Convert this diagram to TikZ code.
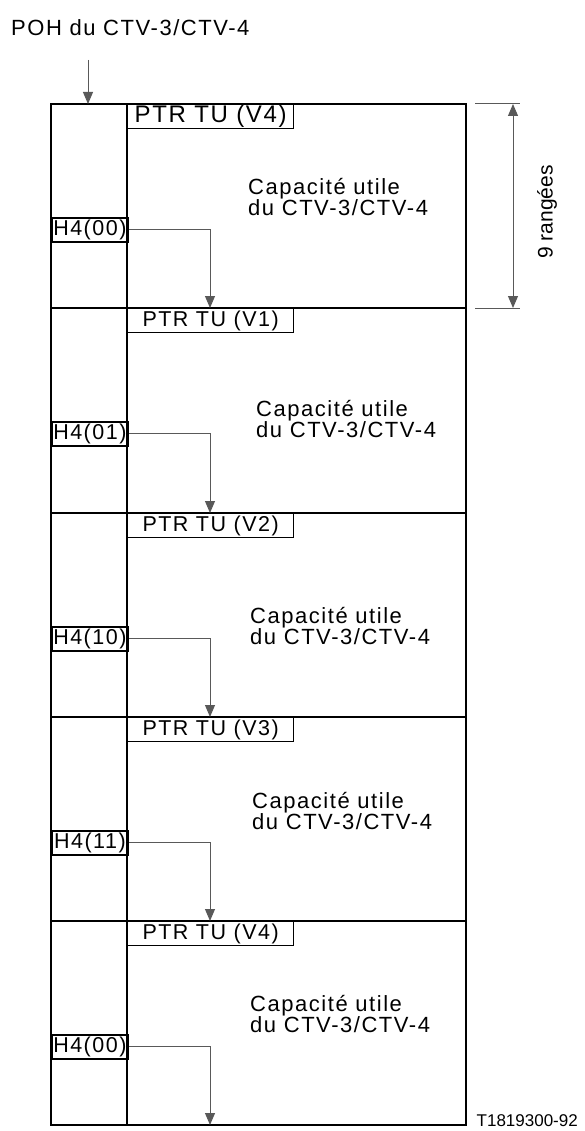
\documentclass[tikz,border=0pt]{standalone}
\usepackage{fontspec}
\setmainfont{Liberation Sans}
\newfontfamily\lsfont[LetterSpace=7]{Liberation Sans}
\usetikzlibrary{arrows.meta}
\begin{document}
\begin{tikzpicture}[x=1pt,y=-1pt,
  frameline/.style={line width=1.8pt},
  ptrbox/.style={draw,line width=1.3pt,minimum width=166pt,minimum height=24pt,inner sep=0pt,anchor=north west,font=\lsfont\fontsize{21.5}{21.5}\selectfont},
  h4box/.style={draw,line width=1.8pt,minimum width=76pt,minimum height=24pt,inner sep=0pt,anchor=north west,font=\lsfont\fontsize{21.5}{21.5}\selectfont},
  captext/.style={anchor=west,align=left,inner sep=0pt,font=\lsfont\fontsize{22}{19.5}\selectfont},
  ptrarrow/.style={draw=black!65,line width=1pt,-{Triangle[width=10pt,length=12pt]}},
  dimline/.style={draw=black!65,line width=1pt},
]
\useasboundingbox (0,0) rectangle (584,1131);

% outer frame and subdivisions
\draw[frameline] (51,104) rectangle (466,1125);
\draw[frameline] (127,104) -- (127,1125);
\foreach \y in {308,513,717,921}{
  \draw[frameline] (51,\y) -- (466,\y);
}

% PTR boxes
\node[ptrbox,font=\lsfont\fontsize{24}{24}\selectfont] (ptra) at (127,104) {PTR TU (V4)};
\node[ptrbox] (ptrb) at (127,308) {PTR TU (V1)};
\node[ptrbox] (ptrc) at (127,513) {PTR TU (V2)};
\node[ptrbox] (ptrd) at (127,717) {PTR TU (V3)};
\node[ptrbox] (ptre) at (127,921) {PTR TU (V4)};

% H4 boxes
\node[h4box] (h4a) at (51,217) {H4(00)};
\node[h4box] (h4b) at (51,421) {H4(01)};
\node[h4box] (h4c) at (51,626) {H4(10)};
\node[h4box] (h4d) at (51,830) {H4(11)};
\node[h4box] (h4e) at (51,1034) {H4(00)};

% payload texts
\node[captext] (capa) at (248,197) {Capacité utile\\du CTV-3/CTV-4};
\node[captext] (capb) at (256,419) {Capacité utile\\du CTV-3/CTV-4};
\node[captext] (capc) at (250,626) {Capacité utile\\du CTV-3/CTV-4};
\node[captext] (capd) at (252,811) {Capacité utile\\du CTV-3/CTV-4};
\node[captext] (cape) at (250,1014) {Capacité utile\\du CTV-3/CTV-4};

% H4 arrows
\coordinate (ta) at (210,308);
\coordinate (tb) at (210,513);
\coordinate (tc) at (210,717);
\coordinate (td) at (210,921);
\coordinate (te) at (210,1125);
\draw[ptrarrow] (h4a.east) -| (ta);
\draw[ptrarrow] (h4b.east) -| (tb);
\draw[ptrarrow] (h4c.east) -| (tc);
\draw[ptrarrow] (h4d.east) -| (td);
\draw[ptrarrow] (h4e.east) -| (te);

% POH label
\node[anchor=west,inner sep=0pt,font=\lsfont\fontsize{22}{22}\selectfont] (poh) at (11,28) {POH du CTV-3/CTV-4};
\coordinate (pohs) at (88,60);
\coordinate (pohe) at (88,104);
\draw[ptrarrow] (pohs) -- (pohe);

% dimension 9 rows
\coordinate (dt1) at (475,104);
\coordinate (dt2) at (520,104);
\coordinate (db1) at (475,308);
\coordinate (db2) at (520,308);
\draw[dimline] (dt1) -- (dt2);
\draw[dimline] (db1) -- (db2);
\coordinate (dimt) at (513,104);
\coordinate (dimb) at (513,308);
\draw[dimline,{Triangle[width=10pt,length=12pt]}-{Triangle[width=10pt,length=12pt]}] (dimt) -- (dimb);
\node[rotate=90,inner sep=0pt,font=\fontsize{21}{21}\selectfont] (rows) at (547,212) {9 rangées};

% reference
\node[anchor=east,inner sep=0pt,font=\fontsize{17}{17}\selectfont] (ref) at (578,1121) {T1819300-92};
\end{tikzpicture}
\end{document}
